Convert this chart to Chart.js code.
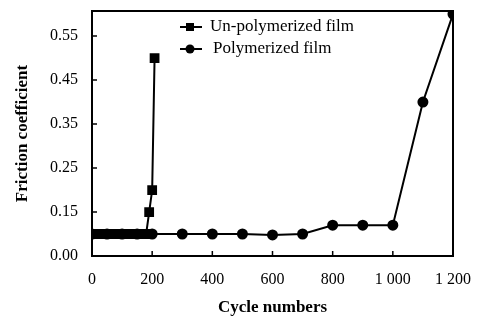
<!DOCTYPE html>
<html>
<head>
<meta charset="utf-8">
<script src="https://cdn.jsdelivr.net/npm/chart.js@4"></script>
<style>
  html, body { margin: 0; padding: 0; background: #fff; }
  #wrap { width: 482px; height: 322px; }
</style>
</head>
<body>
<div id="wrap"><canvas id="chart" width="482" height="322"></canvas></div>
<script>
// Data
const unpolyCycles = [0, 20, 40, 60, 80, 100, 120, 140, 160, 180, 190, 200, 208];
const unpolyFriction = [0.1, 0.1, 0.1, 0.1, 0.1, 0.1, 0.1, 0.1, 0.1, 0.1, 0.15, 0.2, 0.5];
const polyCycles = [0, 50, 100, 150, 200, 300, 400, 500, 600, 700, 800, 900, 1000, 1100, 1200];
const polyFriction = [0.1, 0.1, 0.1, 0.1, 0.1, 0.1, 0.1, 0.1, 0.098, 0.1, 0.12, 0.12, 0.12, 0.4, 0.6];

// Tick labels (the bottom of the y axis is printed as 0.00)
const xTicks = [0, 200, 400, 600, 800, 1000, 1200];
const xTickLabels = ["0", "200", "400", "600", "800", "1 000", "1 200"];
const yTicks = [0.05, 0.15, 0.25, 0.35, 0.45, 0.55];
const yTickLabels = ["0.00", "0.15", "0.25", "0.35", "0.45", "0.55"];

const serif = "'Liberation Serif', 'DejaVu Serif', serif";

function toPoints(xs, ys) {
    return xs.map((x, i) => ({ x: x, y: ys[i] }));
}

// Frame, inward tick marks and legend with line+marker
const framePlugin = {
    id: "frame",
    afterDraw(chart) {
        const ctx = chart.ctx;
        const a = chart.chartArea;
        const xs = chart.scales.x, ys = chart.scales.y;
        ctx.save();
        ctx.strokeStyle = "#000";
        ctx.lineWidth = 2;
        ctx.strokeRect(a.left, a.top, a.right - a.left, a.bottom - a.top);
        ctx.lineWidth = 1.5;
        ctx.beginPath();
        yTicks.slice(1).forEach(v => {
            const py = ys.getPixelForValue(v);
            ctx.moveTo(a.left, py);
            ctx.lineTo(a.left + 5, py);
        });
        xTicks.slice(1, -1).forEach(v => {
            const px = xs.getPixelForValue(v);
            ctx.moveTo(px, a.bottom);
            ctx.lineTo(px, a.bottom - 5);
        });
        ctx.stroke();

        // legend
        const items = [
            { label: "Un-polymerized film", style: "rect", y: 27, tx: 210 },
            { label: "Polymerized film", style: "circle", y: 49, tx: 213 }
        ];
        ctx.font = "17px " + serif;
        ctx.textBaseline = "middle";
        ctx.fillStyle = "#000";
        items.forEach(it => {
            ctx.lineWidth = 2;
            ctx.beginPath();
            ctx.moveTo(180, it.y);
            ctx.lineTo(202, it.y);
            ctx.stroke();
            if (it.style === "rect") {
                ctx.fillRect(186, it.y - 4, 8, 8);
            } else {
                ctx.beginPath();
                ctx.arc(190, it.y, 4.5, 0, Math.PI * 2);
                ctx.fill();
            }
            ctx.fillText(it.label, it.tx, it.y);
        });
        ctx.restore();
    }
};

const chart = new Chart(document.getElementById("chart"), {
    type: "line",
    data: {
        datasets: [
            {
                label: "Un-polymerized film",
                data: toPoints(unpolyCycles, unpolyFriction),
                borderColor: "#000",
                backgroundColor: "#000",
                borderWidth: 2,
                pointStyle: "rect",
                pointRadius: 5.5,
                tension: 0
            },
            {
                label: "Polymerized film",
                data: toPoints(polyCycles, polyFriction),
                borderColor: "#000",
                backgroundColor: "#000",
                borderWidth: 2,
                pointStyle: "circle",
                pointRadius: 4.5,
                tension: 0
            }
        ]
    },
    options: {
        responsive: false,
        animation: false,
        layout: { padding: { top: 11, right: 29, left: 0, bottom: 0 } },
        plugins: {
            legend: { display: false },
            tooltip: { enabled: false }
        },
        scales: {
            x: {
                type: "linear",
                min: 0,
                max: 1200,
                grid: { display: false, drawTicks: false },
                border: { display: false },
                afterBuildTicks: s => { s.ticks = xTicks.map(v => ({ value: v })); },
                afterFit: s => { s.height = 66; s.paddingLeft = 0; s.paddingRight = 0; },
                ticks: {
                    padding: 14,
                    color: "#000",
                    font: { family: serif, size: 16 },
                    callback: (v) => xTickLabels[xTicks.indexOf(v)]
                },
                title: {
                    display: true,
                    text: "Cycle numbers",
                    color: "#000",
                    font: { family: serif, size: 17, weight: "bold" },
                    padding: { top: 0, bottom: 4 }
                }
            },
            y: {
                type: "linear",
                min: 0.05,
                max: 0.607,
                grid: { display: false, drawTicks: false },
                border: { display: false },
                afterBuildTicks: s => { s.ticks = yTicks.map(v => ({ value: v })); },
                afterFit: s => { s.width = 92; s.paddingTop = 0; s.paddingBottom = 0; },
                ticks: {
                    padding: 14,
                    color: "#000",
                    font: { family: serif, size: 16 },
                    callback: (v) => yTickLabels[yTicks.indexOf(v)]
                },
                title: {
                    display: true,
                    text: "Friction coefficient",
                    color: "#000",
                    font: { family: serif, size: 17, weight: "bold" },
                    padding: { top: 12, bottom: 0 }
                }
            }
        }
    },
    plugins: [framePlugin]
});
</script>
</body>
</html>
